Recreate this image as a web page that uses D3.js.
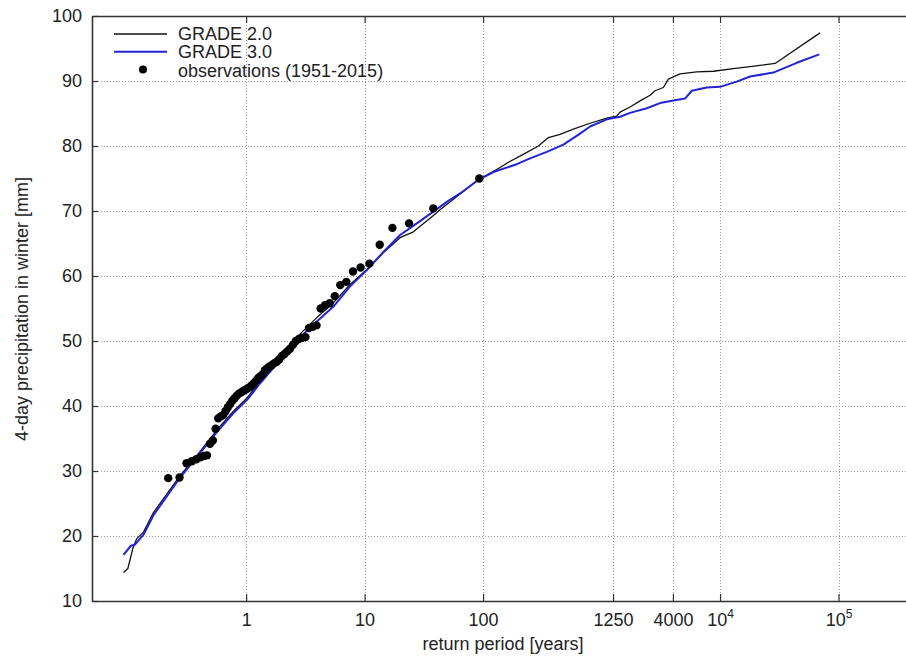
<!DOCTYPE html>
<html>
<head>
<meta charset="utf-8">
<script src="https://cdn.jsdelivr.net/npm/d3@7"></script>
<style>
  html, body { margin: 0; padding: 0; background: #fff; }
  svg { display: block; font-family: "Liberation Sans", Arial, Helvetica, sans-serif; }
</style>
</head>
<body>
<svg id="chart" width="906" height="660"></svg>
<script>
// Axis ticks
const xTicks = [1, 10, 100, 1250, 4000, 1e4, 1e5];
const xTickLabels = ["1", "10", "100", "1250", "4000", "10^4", "10^5"];
const yTicks = [10, 20, 30, 40, 50, 60, 70, 80, 90, 100];

// Legend entries
const seriesNames = ["GRADE 2.0", "GRADE 3.0", "observations (1951-2015)"];

// Observed 4-day winter precipitation (sorted) and their plotting-position return periods
const obsPeriod = [0.220, 0.274, 0.314, 0.348, 0.380, 0.410, 0.439, 0.467, 0.496, 0.524,
  0.552, 0.581, 0.610, 0.640, 0.670, 0.701, 0.733, 0.765, 0.799, 0.834,
  0.869, 0.907, 0.945, 0.985, 1.027, 1.071, 1.116, 1.164, 1.214, 1.267,
  1.322, 1.381, 1.443, 1.508, 1.578, 1.652, 1.731, 1.816, 1.906, 2.003,
  2.108, 2.222, 2.346, 2.481, 2.628, 2.790, 2.970, 3.169, 3.392, 3.643,
  3.928, 4.254, 4.632, 5.073, 5.597, 6.229, 7.006, 7.982, 9.252, 10.97,
  13.41, 17.17, 23.73, 37.97, 92.9];
const obsPrecip = [28.9, 29.0, 31.2, 31.5, 31.8, 32.1, 32.3, 32.4, 34.2, 34.7,
  36.5, 38.1, 38.4, 38.6, 39.2, 39.8, 40.3, 40.8, 41.2, 41.6,
  41.9, 42.1, 42.3, 42.5, 42.7, 42.9, 43.2, 43.5, 43.9, 44.3,
  44.6, 44.9, 45.5, 45.8, 46.1, 46.3, 46.6, 46.8, 47.2, 47.7,
  48.0, 48.4, 48.8, 49.4, 50.0, 50.3, 50.5, 50.6, 52.0, 52.2,
  52.4, 55.0, 55.5, 55.8, 56.9, 58.6, 59.1, 60.7, 61.3, 61.9,
  64.8, 67.4, 68.1, 70.4, 75.0];

// GRADE 2.0 simulated return levels
const grade2Period = [0.0922, 0.1004, 0.1106, 0.1195, 0.136, 0.1651, 0.2773, 0.409, 0.5658, 0.781,
  1.014, 1.313, 1.815, 2.507, 3.951, 5.454, 7.545, 10.44, 14.41, 19.93,
  25.8, 38.07, 43.3, 63.97, 91.3, 139.2, 163.5, 212.1, 292.9, 355.6,
  446.3, 578.1, 799.8, 1106.6, 1343.5, 1432.6, 1740, 2184, 2567, 2828,
  3323, 3662, 4596, 6360, 8781, 12950, 17920, 29120, 69830];
const grade2Precip = [14.4, 15.0, 18.1, 19.6, 20.6, 23.6, 29.3, 33.0, 36.3, 39.2,
  41.2, 43.8, 46.9, 50.1, 53.6, 55.9, 58.7, 61.0, 63.6, 65.9,
  66.8, 69.3, 70.2, 72.6, 74.8, 76.7, 77.5, 78.6, 80.0, 81.3,
  81.8, 82.6, 83.5, 84.3, 84.6, 85.2, 86.0, 87.1, 87.8, 88.5,
  89.0, 90.3, 91.1, 91.4, 91.5, 91.9, 92.2, 92.7, 97.4];

// GRADE 3.0 simulated return levels
const grade3Period = [0.0922, 0.1064, 0.1157, 0.136, 0.1651, 0.2773, 0.409, 0.5658, 0.781, 1.014,
  1.313, 1.815, 2.507, 3.951, 5.454, 7.545, 10.44, 14.41, 19.93, 27.57,
  38.07, 49.4, 63.97, 91.3, 122.2, 192.5, 249.2, 344.8, 476, 658.3,
  799.8, 1106.6, 1432.6, 1740, 2406, 3117, 4035, 5066, 5771, 7724,
  10000, 13830, 17920, 28170, 44390, 68870];
const grade3Precip = [17.1, 18.5, 18.7, 20.2, 23.2, 29.0, 32.8, 36.0, 38.9, 40.9,
  43.5, 46.5, 49.6, 53.0, 55.3, 58.4, 60.9, 63.7, 66.3, 68.1,
  69.9, 71.4, 72.7, 74.8, 76.0, 77.2, 78.1, 79.1, 80.2, 81.9,
  83.0, 84.1, 84.5, 85.1, 85.8, 86.6, 87.0, 87.3, 88.5, 89.0,
  89.1, 89.9, 90.7, 91.3, 92.8, 94.1];

const W = 906, H = 660;
const plot = { left: 92, right: 957, top: 16, bottom: 601 };
const ink = "#222";
const fontSize = 18;

const svg = d3.select("#chart");

const x = d3.scaleLog().domain([0.05, 1e6]).range([plot.left, plot.right]);
const y = d3.scaleLinear().domain([10, 100]).range([plot.bottom, plot.top]);

// Dotted grid
const grid = svg.append("g")
  .attr("stroke", "#9a9a9a")
  .attr("stroke-width", 1)
  .attr("stroke-dasharray", "1,2");
grid.selectAll("line.v").data(xTicks).join("line")
  .attr("class", "v")
  .attr("x1", d => Math.round(x(d)) + 0.5).attr("x2", d => Math.round(x(d)) + 0.5)
  .attr("y1", plot.top).attr("y2", plot.bottom);
grid.selectAll("line.h").data(yTicks.filter(d => d > 10 && d < 100)).join("line")
  .attr("class", "h")
  .attr("x1", plot.left).attr("x2", plot.right)
  .attr("y1", d => Math.round(y(d)) + 0.5).attr("y2", d => Math.round(y(d)) + 0.5);

// Series
const line = d3.line().x(d => x(d[0])).y(d => y(d[1]));
const grade2 = grade2Period.map((t, i) => [t, grade2Precip[i]]);
const grade3 = grade3Period.map((t, i) => [t, grade3Precip[i]]);
const obs = obsPeriod.map((t, i) => [t, obsPrecip[i]]);

svg.append("path").datum(grade2)
  .attr("fill", "none").attr("stroke", "#111").attr("stroke-width", 1.3)
  .attr("stroke-linejoin", "round").attr("d", line);
svg.append("path").datum(grade3)
  .attr("fill", "none").attr("stroke", "#2323d4").attr("stroke-width", 2)
  .attr("stroke-linejoin", "round").attr("d", line);
svg.append("g").selectAll("circle").data(obs).join("circle")
  .attr("cx", d => x(d[0])).attr("cy", d => y(d[1]))
  .attr("r", 4.2).attr("fill", "#000");

// Axes (ticks point inward)
function styleAxis(g) {
  g.select(".domain").attr("stroke", "#333").attr("stroke-width", 1.6);
  g.selectAll(".tick line").attr("stroke", "#333").attr("stroke-width", 1.2);
  g.selectAll(".tick text").attr("fill", ink).attr("font-size", fontSize)
    .attr("font-family", "Liberation Sans, Arial, sans-serif");
}

const xAxis = svg.append("g")
  .attr("transform", `translate(0,${plot.bottom})`)
  .call(d3.axisBottom(x).tickValues(xTicks).tickSizeInner(-7).tickSizeOuter(0)
    .tickPadding(12).tickFormat((d, i) => xTickLabels[i]));
styleAxis(xAxis);
xAxis.selectAll(".tick text").each(function(d, i) {
  const lab = xTickLabels[i];
  if (lab.includes("^")) {
    const [base, exp] = lab.split("^");
    const t = d3.select(this).text(null);
    t.append("tspan").text(base);
    t.append("tspan").attr("font-size", 12).attr("dy", "-8").text(exp);
  }
});

const xAxisTop = svg.append("g")
  .attr("transform", `translate(0,${plot.top})`)
  .call(d3.axisTop(x).tickValues(xTicks).tickSizeInner(-7).tickSizeOuter(0).tickFormat(""));
styleAxis(xAxisTop);

const yAxis = svg.append("g")
  .attr("transform", `translate(${plot.left},0)`)
  .call(d3.axisLeft(y).tickValues(yTicks).tickSizeInner(-6).tickSizeOuter(0)
    .tickPadding(10).tickFormat(d3.format("d")));
styleAxis(yAxis);

// Axis titles
svg.append("text")
  .attr("x", 503).attr("y", 650)
  .attr("text-anchor", "middle").attr("font-size", fontSize).attr("fill", ink)
  .text("return period [years]");
svg.append("text")
  .attr("transform", "translate(28,309) rotate(-90)")
  .attr("text-anchor", "middle").attr("font-size", fontSize).attr("fill", ink)
  .text("4-day precipitation in winter [mm]");

// Legend
const legend = svg.append("g");
legend.append("line").attr("x1", 114).attr("x2", 167).attr("y1", 34).attr("y2", 34)
  .attr("stroke", "#111").attr("stroke-width", 1.3);
legend.append("line").attr("x1", 114).attr("x2", 167).attr("y1", 51.7).attr("y2", 51.7)
  .attr("stroke", "#2323d4").attr("stroke-width", 2);
legend.append("circle").attr("cx", 143).attr("cy", 69.5).attr("r", 4).attr("fill", "#000");
legend.selectAll("text").data(seriesNames).join("text")
  .attr("x", 178).attr("y", (d, i) => 39.5 + i * 18.5)
  .attr("font-size", fontSize).attr("fill", ink)
  .text(d => d);
</script>
</body>
</html>
